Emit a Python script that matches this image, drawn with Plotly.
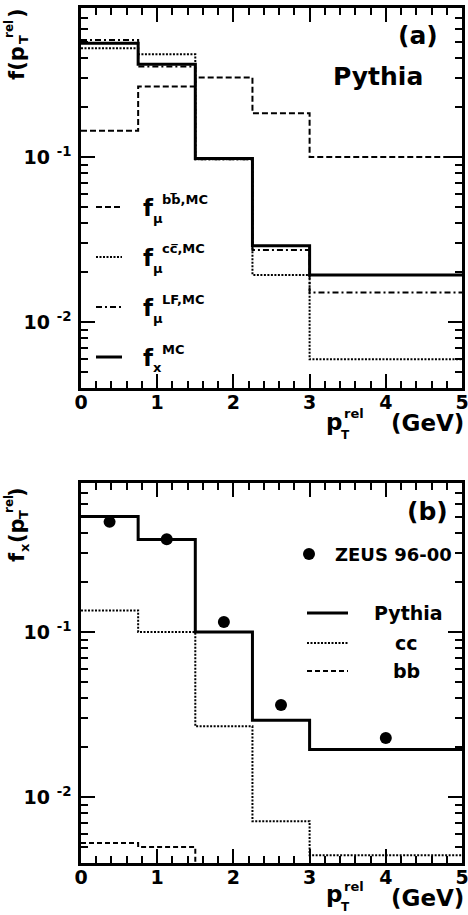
import plotly.graph_objects as go

W, H = 468, 915

# ---------------- data ----------------
edges = [0.0, 0.75, 1.5, 2.25, 3.0, 5.0]

# panel (a)  Pythia MC templates
a_bb = [0.144, 0.267, 0.303, 0.184, 0.100]
a_cc = [0.456, 0.419, 0.097, 0.0193, 0.00594]
a_lf = [0.512, 0.353, 0.097, 0.0273, 0.0151]
a_fx = [0.489, 0.365, 0.098, 0.0290, 0.0193]

# panel (b)
b_pythia = [0.502, 0.363, 0.100, 0.0292, 0.0194]
b_cc = [0.135, 0.100, 0.0268, 0.00713, 0.00443]
b_bb = [0.00526, 0.00498, 0.0020, 0.0020, 0.0020]
zeus_x = [0.375, 1.125, 1.875, 2.625, 4.0]
zeus_y = [0.465, 0.365, 0.115, 0.0361, 0.0228]

x_ticks = [0, 1, 2, 3, 4, 5]
x_ticklabels = ["0", "1", "2", "3", "4", "5"]
y_ticks = [0.01, 0.1]
y_ticklabels = ["10 <sup>-2</sup>", "10 <sup>-1</sup>"]

FONT = "DejaVu Sans"


def step(vals):
    return list(vals) + [vals[-1]]


def px(x):
    return x / W


def py(y):
    return 1 - y / H


DASH_BB = "6px,3px"
DASH_CC = "2px,1.5px"
DASH_LF = "6px,3px,2px,3px"

fig = go.Figure()

series_a = [
    (a_bb, dict(color="black", width=2, dash=DASH_BB)),
    (a_cc, dict(color="black", width=2, dash=DASH_CC)),
    (a_lf, dict(color="black", width=2, dash=DASH_LF)),
    (a_fx, dict(color="black", width=3)),
]
for vals, ln in series_a:
    fig.add_trace(go.Scatter(x=edges, y=step(vals), mode="lines", line_shape="hv",
                             line=ln, xaxis="x", yaxis="y", showlegend=False))

series_b = [
    (b_cc, dict(color="black", width=2, dash=DASH_CC)),
    (b_bb, dict(color="black", width=2, dash="5px,3px")),
    (b_pythia, dict(color="black", width=3)),
]
for vals, ln in series_b:
    fig.add_trace(go.Scatter(x=edges, y=step(vals), mode="lines", line_shape="hv",
                             line=ln, xaxis="x2", yaxis="y2", showlegend=False))

fig.add_trace(go.Scatter(x=zeus_x, y=zeus_y, mode="markers",
                         marker=dict(color="black", size=12, symbol="circle"),
                         xaxis="x2", yaxis="y2", showlegend=False))

xminor = [i * 0.2 for i in range(0, 26)]
yminor = [k * 10.0 ** e for e in (-3, -2, -1) for k in range(2, 10)]


def xaxis(anchor):
    return dict(
        domain=[px(81), px(462)], range=[0, 5], anchor=anchor, automargin=False,
        tickmode="array", tickvals=x_ticks, ticktext=x_ticklabels,
        ticks="inside", ticklen=14, tickwidth=2, tickcolor="black",
        minor=dict(tickmode="array", tickvals=xminor, ticks="inside", ticklen=7,
                   tickwidth=2, tickcolor="black", showgrid=False),
        showline=True, linecolor="black", linewidth=2.5, mirror="ticks",
        showgrid=False, zeroline=False,
        tickfont=dict(family=FONT, size=19, color="black", weight="bold"),
        ticklabelstandoff=-5, ticklabeloverflow="allow",
    )


def yaxis(anchor, dom):
    return dict(
        domain=dom, type="log", range=[-2.4, -0.097], anchor=anchor, automargin=False,
        tickmode="array", tickvals=y_ticks, ticktext=y_ticklabels,
        ticks="inside", ticklen=14, tickwidth=2, tickcolor="black",
        minor=dict(tickmode="array", tickvals=yminor, ticks="inside", ticklen=7,
                   tickwidth=2, tickcolor="black", showgrid=False),
        showline=True, linecolor="black", linewidth=2.5, mirror="ticks",
        showgrid=False, zeroline=False,
        tickfont=dict(family=FONT, size=19, color="black", weight="bold"),
        ticklabelstandoff=3,
    )


fig.update_layout(
    width=W, height=H, margin=dict(l=0, r=0, t=0, b=0, autoexpand=False),
    paper_bgcolor="white", plot_bgcolor="white",
    xaxis=xaxis("y"), yaxis=yaxis("x", [py(388), py(8)]),
    xaxis2=xaxis("y2"), yaxis2=yaxis("x2", [py(863), py(483)]),
    showlegend=False,
)

ann = []
shapes = []


def text(x, y, s, size, xanchor="center", yanchor="middle", angle=0):
    ann.append(dict(x=px(x), y=py(y), xref="paper", yref="paper", text=s,
                    showarrow=False, xanchor=xanchor, yanchor=yanchor, textangle=angle,
                    font=dict(family=FONT, size=size, color="black", weight="bold")))


# panel labels
text(418, 35, "(a)", 25)
text(378, 76, "Pythia", 25)
text(427, 511, "(b)", 25)

# x titles (p_T^rel (GeV)) for both panels
for dy, dg in ((0, 0), (472, 475)):
    text(334, 422 + dy, "p", 23)
    text(342, 414 + dy, "rel", 13, xanchor="left")
    text(345, 435 + dy, "T", 12)
    text(466, 423 + dg, "(GeV)", 23, xanchor="right")

# y title a: f(p_T^rel)
text(17, 63, "f(p", 21, angle=-90)
text(9, 29, "rel", 12, angle=-90)
text(23, 40, "T", 13, angle=-90)
text(17, 13, ")", 21, angle=-90)

# y title b: f_x(p_T^rel)
text(17, 557, "f", 21, angle=-90)
text(24, 548, "x", 13, angle=-90)
text(17, 531, "(p", 21, angle=-90)
text(9, 504, "rel", 12, angle=-90)
text(23, 515, "T", 13, angle=-90)
text(17, 492, ")", 21, angle=-90)

# legend panel a
leg_a = [
    (DASH_BB, 2, "bb\u0305,MC", "\u03bc"),
    (DASH_CC, 2, "cc\u0305,MC", "\u03bc"),
    (DASH_LF, 2, "LF,MC", "\u03bc"),
    ("solid", 3, "MC", "x"),
]
for i, (dash, w, sup, sub) in enumerate(leg_a):
    yl = 207 + 50 * i
    shapes.append(dict(type="line", xref="paper", yref="paper",
                       x0=px(96), x1=px(122), y0=py(yl), y1=py(yl),
                       line=dict(color="black", width=w, dash=dash)))
    text(148, yl + 1, "f", 23)
    text(160, yl - 8, sup, 13, xanchor="left")
    text(151, yl + 11, sub, 13, xanchor="left")

# legend panel b
shapes.append(dict(type="circle", xref="paper", yref="paper",
                   x0=px(303), x1=px(315), y0=py(548), y1=py(560),
                   fillcolor="black", line=dict(color="black", width=0)))
text(333, 554, "ZEUS 96-00", 18, xanchor="left")
leg_b = [("solid", 3, "Pythia", 613, 408), (DASH_CC, 2, "cc", 643, 406),
         ("5px,3px", 2, "bb", 671, 406)]
for dash, w, lab, yl, xc in leg_b:
    shapes.append(dict(type="line", xref="paper", yref="paper",
                       x0=px(307), x1=px(348), y0=py(yl), y1=py(yl),
                       line=dict(color="black", width=w, dash=dash)))
    text(xc, yl, lab, 19)

fig.update_layout(annotations=ann, shapes=shapes)
fig.write_html("out.html")
